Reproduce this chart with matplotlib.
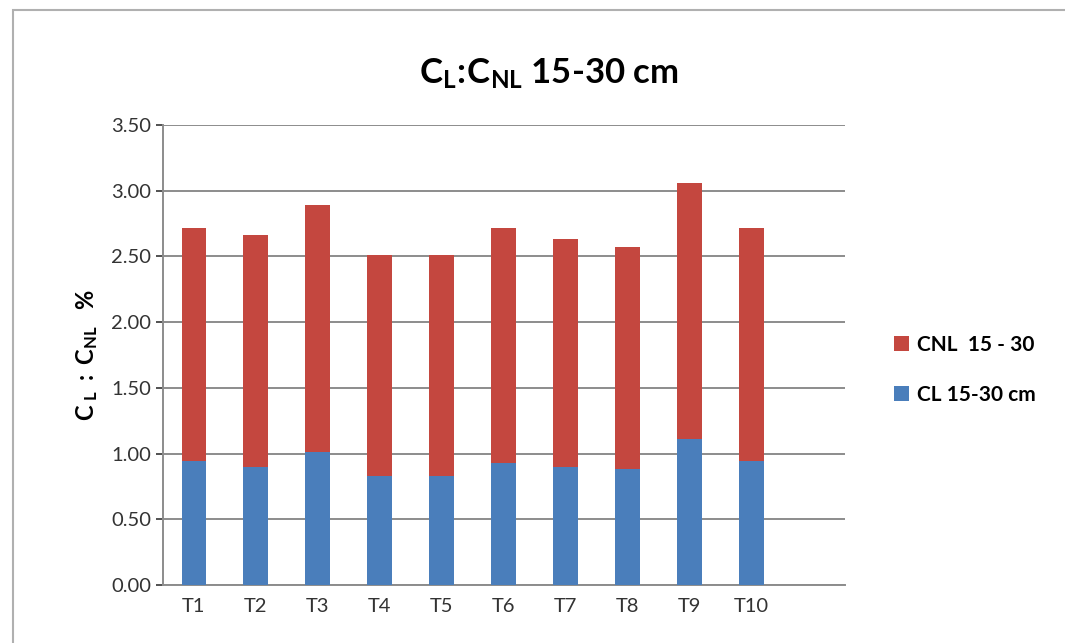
import numpy as np
import matplotlib
matplotlib.use("Agg")
import matplotlib.pyplot as plt
from matplotlib.patches import Rectangle

treatments = ['T1', 'T2', 'T3', 'T4', 'T5', 'T6', 'T7', 'T8', 'T9', 'T10']
cl_15_30 = [0.94, 0.90, 1.01, 0.83, 0.83, 0.93, 0.90, 0.88, 1.11, 0.94]
total_15_30 = [2.72, 2.66, 2.89, 2.51, 2.51, 2.72, 2.63, 2.57, 3.06, 2.72]
cnl_15_30 = [t - c for t, c in zip(total_15_30, cl_15_30)]

plt.rcParams['font.family'] = ['Lato', 'DejaVu Sans']
plt.rcParams['mathtext.fontset'] = 'custom'
plt.rcParams['mathtext.rm'] = 'Lato:bold'
plt.rcParams['mathtext.it'] = 'Lato:bold'
plt.rcParams['mathtext.bf'] = 'Lato:bold'

blue = '#4a7ebb'
red = '#c4473f'

fig = plt.figure(figsize=(10.65, 6.43), dpi=100)
ax = fig.add_axes([0.153, 0.0902, 0.640, 0.7154])

x = np.arange(len(treatments))
ax.bar(x, cl_15_30, width=0.4, color=blue, label='CL 15-30 cm', zorder=3)
ax.bar(x, cnl_15_30, width=0.4, bottom=cl_15_30, color=red, label='CNL  15 - 30', zorder=3)

ax.set_xlim(-0.5, 10.5)
ax.set_ylim(0, 3.5)
ax.set_yticks(np.arange(0, 3.51, 0.5))
ax.set_yticklabels([f'{v:.2f}' for v in np.arange(0, 3.51, 0.5)])
ax.set_xticks(x)
ax.set_xticklabels(treatments)
ax.tick_params(axis='both', labelsize=14.5, colors='#333333', length=5, width=1.2)
ax.tick_params(axis='x', length=0, pad=9)
ax.yaxis.grid(True, color='#8c8c8c', linewidth=1.4, zorder=0)

for side in ['top', 'right']:
    ax.spines[side].set_visible(False)
for side in ['left', 'bottom']:
    ax.spines[side].set_color('#8c8c8c')
    ax.spines[side].set_linewidth(1.4)

ax.set_ylabel(r'$\mathregular{C_{\ L}\ :\ C_{NL}}$   %', fontsize=17, fontweight='bold',
              labelpad=8)

fig.text(0.515, 0.885, r'$\mathregular{C_L\!:\!C_{NL}}$ 15-30 cm', fontsize=25,
         fontweight='bold', ha='center', va='center')

handles, labels = ax.get_legend_handles_labels()
fig.legend(handles[::-1], labels[::-1], loc='center left', bbox_to_anchor=(0.822, 0.425),
           frameon=False, handlelength=0.7, handleheight=0.7,
           labelspacing=1.45, handletextpad=0.4,
           prop={'size': 15, 'weight': 'bold'})

# outer chart frame
fig.add_artist(Rectangle((0.012, -0.02), 0.99, 1.005, transform=fig.transFigure,
                         fill=False, edgecolor='#b0b0b0', linewidth=1.5))

fig.savefig('out.png', dpi=100)
